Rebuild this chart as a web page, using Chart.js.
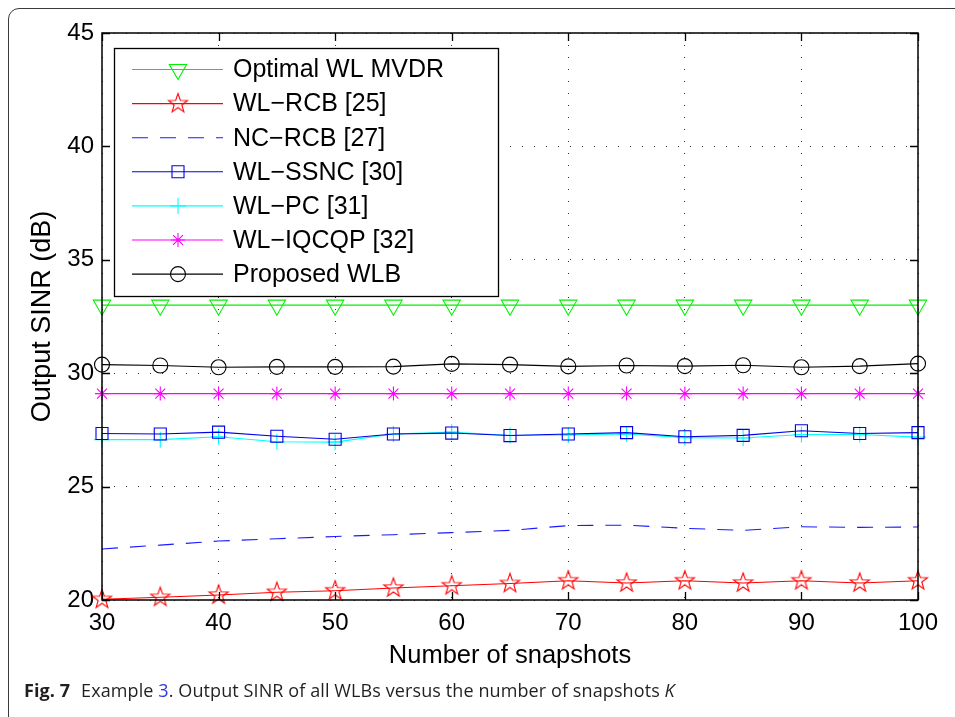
<!DOCTYPE html>
<html>
<head>
<meta charset="utf-8">
<script src="https://cdn.jsdelivr.net/npm/chart.js@4.4.1/dist/chart.umd.min.js"></script>
<style>
  html, body { margin: 0; padding: 0; background: #fff; }
  #wrap { position: relative; width: 955px; height: 717px; overflow: hidden; }
  #frame {
    position: absolute; left: 8px; top: 8px; width: 1000px; height: 760px;
    border: 1.5px solid #3a3a3a; border-radius: 11px; box-sizing: border-box;
  }
  #sinr { position: absolute; left: 0; top: 0; }
  #caption {
    position: absolute; left: 24px; top: 678px; white-space: nowrap;
    font-family: "Open Sans", sans-serif; font-size: 18px; color: #231f20;
    letter-spacing: 0.1px;
  }
  #caption b { font-weight: 700; margin-right: 6px; }
  #caption .ref { color: #2b3bd6; }
</style>
</head>
<body>
<div id="wrap">
  <div id="frame"></div>
  <canvas id="sinr" width="955" height="717"></canvas>
  <div id="caption"><b>Fig. 7</b> Example <span class="ref">3</span>. Output SINR of all WLBs versus the number of snapshots <i>K</i></div>
</div>
<script>
// Number of snapshots K
const snapshots = [30, 35, 40, 45, 50, 55, 60, 65, 70, 75, 80, 85, 90, 95, 100];

// Output SINR (dB) per beamformer
const optimalWlMvdr = [33.0, 33.0, 33.0, 33.0, 33.0, 33.0, 33.0, 33.0, 33.0, 33.0, 33.0, 33.0, 33.0, 33.0, 33.0];
const wlRcb = [20.03, 20.12, 20.22, 20.34, 20.41, 20.53, 20.63, 20.73, 20.85, 20.75, 20.85, 20.75, 20.85, 20.75, 20.85];
const ncRcb = [22.25, 22.42, 22.6, 22.7, 22.8, 22.88, 22.97, 23.07, 23.28, 23.3, 23.16, 23.07, 23.23, 23.2, 23.22];
const wlSsnc = [27.34, 27.32, 27.4, 27.22, 27.09, 27.32, 27.36, 27.25, 27.32, 27.38, 27.2, 27.26, 27.46, 27.34, 27.38];
const wlPc = [27.07, 27.07, 27.2, 26.98, 26.96, 27.32, 27.4, 27.25, 27.28, 27.32, 27.16, 27.14, 27.3, 27.3, 27.18];
const wlIqcqp = [29.1, 29.1, 29.1, 29.1, 29.1, 29.1, 29.1, 29.1, 29.1, 29.1, 29.1, 29.1, 29.1, 29.1, 29.1];
const proposedWlb = [30.38, 30.34, 30.26, 30.28, 30.28, 30.29, 30.41, 30.38, 30.3, 30.34, 30.31, 30.35, 30.26, 30.31, 30.42];

const xTicks = [30, 40, 50, 60, 70, 80, 90, 100];
const yTicks = [20, 25, 30, 35, 40, 45];

const FONT = '"Liberation Sans", Arial, Helvetica, sans-serif';

// hollow five-point star marker (MATLAB 'p')
function pentagram(color, r) {
  const c = document.createElement('canvas');
  const s = Math.ceil(r * 2 + 4);
  c.width = s; c.height = s;
  const g = c.getContext('2d');
  g.strokeStyle = color;
  g.lineWidth = 1.1;
  g.beginPath();
  for (let i = 0; i < 10; i++) {
    const rad = i % 2 === 0 ? r : r * 0.4;
    const a = -Math.PI / 2 + i * Math.PI / 5;
    const px = s / 2 + rad * Math.cos(a), py = s / 2 + rad * Math.sin(a);
    if (i === 0) g.moveTo(px, py); else g.lineTo(px, py);
  }
  g.closePath();
  g.stroke();
  return c;
}

const toPoints = ys => snapshots.map((k, i) => ({ x: k, y: ys[i] }));

function series(label, ys, color, style, radius, extra) {
  return Object.assign({
    label: label,
    data: toPoints(ys),
    borderColor: color,
    backgroundColor: 'rgba(0,0,0,0)',
    pointBorderColor: color,
    pointBackgroundColor: 'rgba(0,0,0,0)',
    borderWidth: 1.1,
    pointBorderWidth: 1.1,
    pointStyle: style,
    pointRadius: radius,
    tension: 0,
    clip: false
  }, extra || {});
}

const datasets = [
  series('Optimal WL MVDR', optimalWlMvdr, '#00f000', 'triangle', 10, { pointRotation: 180 }),
  series('WL\u2212RCB [25]', wlRcb, '#ff0000', pentagram('#ff0000', 10), 10),
  series('NC\u2212RCB [27]', ncRcb, '#1a1aff', false, 0, { borderDash: [16, 12] }),
  series('WL\u2212SSNC [30]', wlSsnc, '#0000e6', 'rect', 8.5),
  series('WL\u2212PC [31]', wlPc, '#00ffff', 'cross', 8),
  series('WL\u2212IQCQP [32]', wlIqcqp, '#ff00ff', 'star', 7),
  series('Proposed WLB', proposedWlb, '#000000', 'circle', 7.5)
];

// box, inward ticks and legend drawn on top of the plot
const matlabFrame = {
  id: 'matlabFrame',
  afterDraw(chart) {
    const ctx = chart.ctx;
    const { left, right, top, bottom } = chart.chartArea;
    const xs = chart.scales.x, ys = chart.scales.y;
    ctx.save();
    ctx.strokeStyle = '#000';
    ctx.lineWidth = 1.3;
    ctx.setLineDash([]);
    ctx.beginPath();
    xTicks.forEach(t => {
      const px = Math.round(xs.getPixelForValue(t)) + 0.5;
      ctx.moveTo(px, bottom); ctx.lineTo(px, bottom - 8);
      ctx.moveTo(px, top); ctx.lineTo(px, top + 8);
    });
    yTicks.forEach(t => {
      const py = Math.round(ys.getPixelForValue(t)) + 0.5;
      ctx.moveTo(left, py); ctx.lineTo(left + 8, py);
      ctx.moveTo(right, py); ctx.lineTo(right - 8, py);
    });
    ctx.stroke();
    ctx.lineWidth = 1.5;
    ctx.strokeRect(left, top, right - left, bottom - top);

    // legend
    const lx = 114, ly = 48, lw = 384, lh = 248;
    ctx.fillStyle = '#fff';
    ctx.fillRect(lx, ly, lw, lh);
    ctx.lineWidth = 1.3;
    ctx.strokeStyle = '#000';
    ctx.strokeRect(lx + 0.5, ly + 0.5, lw, lh);
    ctx.font = '25px ' + FONT;
    ctx.textBaseline = 'middle';
    ctx.textAlign = 'left';
    chart.data.datasets.forEach((ds, i) => {
      const y = 69.5 + i * 34.1;
      ctx.strokeStyle = ds.borderColor;
      ctx.lineWidth = 1.1;
      ctx.setLineDash(ds.borderDash || []);
      ctx.beginPath();
      ctx.moveTo(132, y); ctx.lineTo(223, y);
      ctx.stroke();
      ctx.setLineDash([]);
      if (ds.pointRadius > 0) {
        ctx.fillStyle = 'rgba(0,0,0,0)';
        Chart.helpers.drawPoint(ctx, {
          pointStyle: ds.pointStyle,
          rotation: ds.pointRotation || 0,
          radius: ds.pointRadius,
          borderWidth: 1.1
        }, 178, y);
      }
      ctx.fillStyle = '#000';
      ctx.fillText(ds.label, 233, y + 1);
    });
    ctx.restore();
  }
};

const tickFont = { family: FONT, size: 24 };

new Chart(document.getElementById('sinr'), {
  type: 'line',
  data: { datasets: datasets },
  options: {
    responsive: false,
    animation: false,
    devicePixelRatio: 1,
    layout: { padding: { left: 20, top: 33, right: 37, bottom: 40 } },
    plugins: { legend: { display: false }, tooltip: { enabled: false } },
    scales: {
      x: {
        type: 'linear',
        min: 30, max: 100,
        afterBuildTicks: s => { s.ticks = xTicks.map(v => ({ value: v })); },
        afterFit: s => { s.height = 77; },
        ticks: { color: '#000', font: tickFont, padding: 9, autoSkip: false, maxRotation: 0 },
        grid: { color: '#333', lineWidth: 1, drawTicks: false, borderDash: [1, 11] },
        border: { display: false, dash: [1, 11] },
        title: { display: true, text: 'Number of snapshots', color: '#000', font: { family: FONT, size: 25.5 }, padding: { top: 0, bottom: 6 } }
      },
      y: {
        type: 'linear',
        min: 20, max: 45,
        afterBuildTicks: s => { s.ticks = yTicks.map(v => ({ value: v })); },
        afterFit: s => { s.width = 82; },
        ticks: { color: '#000', font: tickFont, padding: 8, autoSkip: false },
        grid: { color: '#333', lineWidth: 1, drawTicks: false, borderDash: [1, 11] },
        border: { display: false, dash: [1, 11] },
        title: { display: true, text: 'Output SINR (dB)', color: '#000', font: { family: FONT, size: 27 }, padding: { top: 6, bottom: 0 } }
      }
    }
  },
  plugins: [matlabFrame]
});
</script>
</body>
</html>
